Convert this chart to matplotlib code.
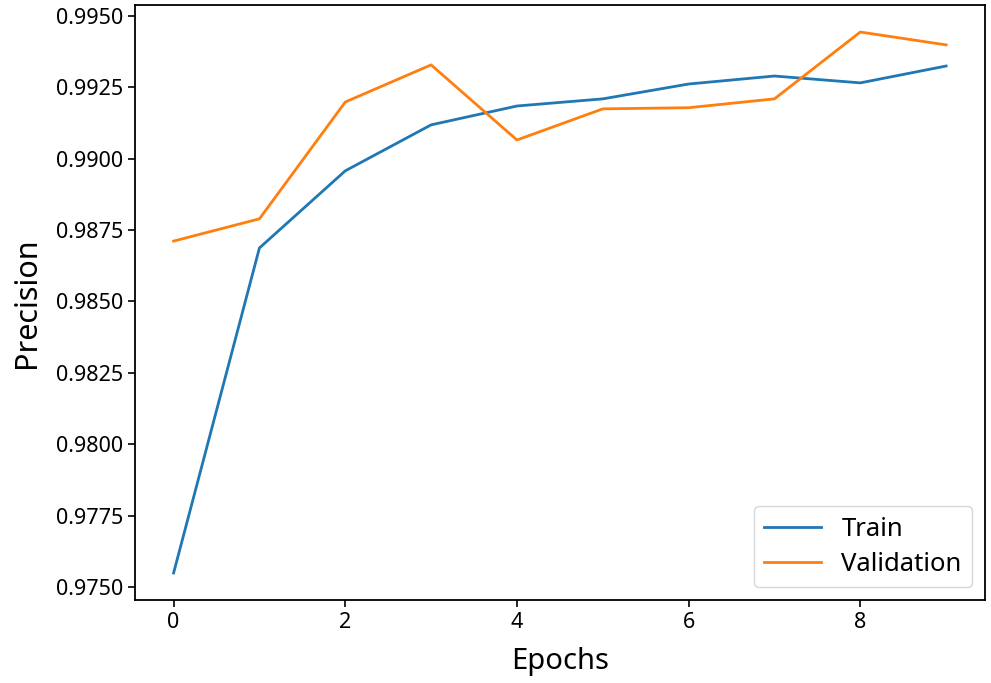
import matplotlib
matplotlib.use("Agg")
import matplotlib.pyplot as plt

# ─── Data ────────────────────────────────────────────────────────────────────
EPOCHS = list(range(10))
TRAIN_PRECISION = [0.97549, 0.98687, 0.98957, 0.99118, 0.99184,
                   0.99209, 0.99261, 0.99289, 0.99265, 0.99324]
VAL_PRECISION = [0.98711, 0.98789, 0.99198, 0.99328, 0.99065,
                 0.99174, 0.99178, 0.99209, 0.99443, 0.99398]

plt.rcParams["font.family"] = ["Noto Sans", "DejaVu Sans"]


def main():
    fig = plt.figure(figsize=(9.91, 6.83), dpi=100)
    ax = fig.add_axes([0.1362, 0.1215, 0.8575, 0.8712])

    ax.plot(EPOCHS, TRAIN_PRECISION, color="#1f77b4", linewidth=2, label="Train")
    ax.plot(EPOCHS, VAL_PRECISION, color="#ff7f0e", linewidth=2, label="Validation")

    ax.set_xticks([0, 2, 4, 6, 8])
    ax.set_yticks([0.9750, 0.9775, 0.9800, 0.9825, 0.9850,
                   0.9875, 0.9900, 0.9925, 0.9950])
    ax.yaxis.set_major_formatter(matplotlib.ticker.FormatStrFormatter("%.4f"))
    ax.tick_params(labelsize=15.5, length=5, width=1.2)
    for sp in ax.spines.values():
        sp.set_linewidth(1.3)

    ax.set_xlabel("Epochs", fontsize=21, labelpad=10)
    ax.set_ylabel("Precision", fontsize=22, labelpad=10)

    ax.legend(loc="lower right", fontsize=18.5, handlelength=2.2,
              borderpad=0.4, labelspacing=0.4)

    fig.savefig("out.png", dpi=100)
    plt.close(fig)


if __name__ == "__main__":
    main()
